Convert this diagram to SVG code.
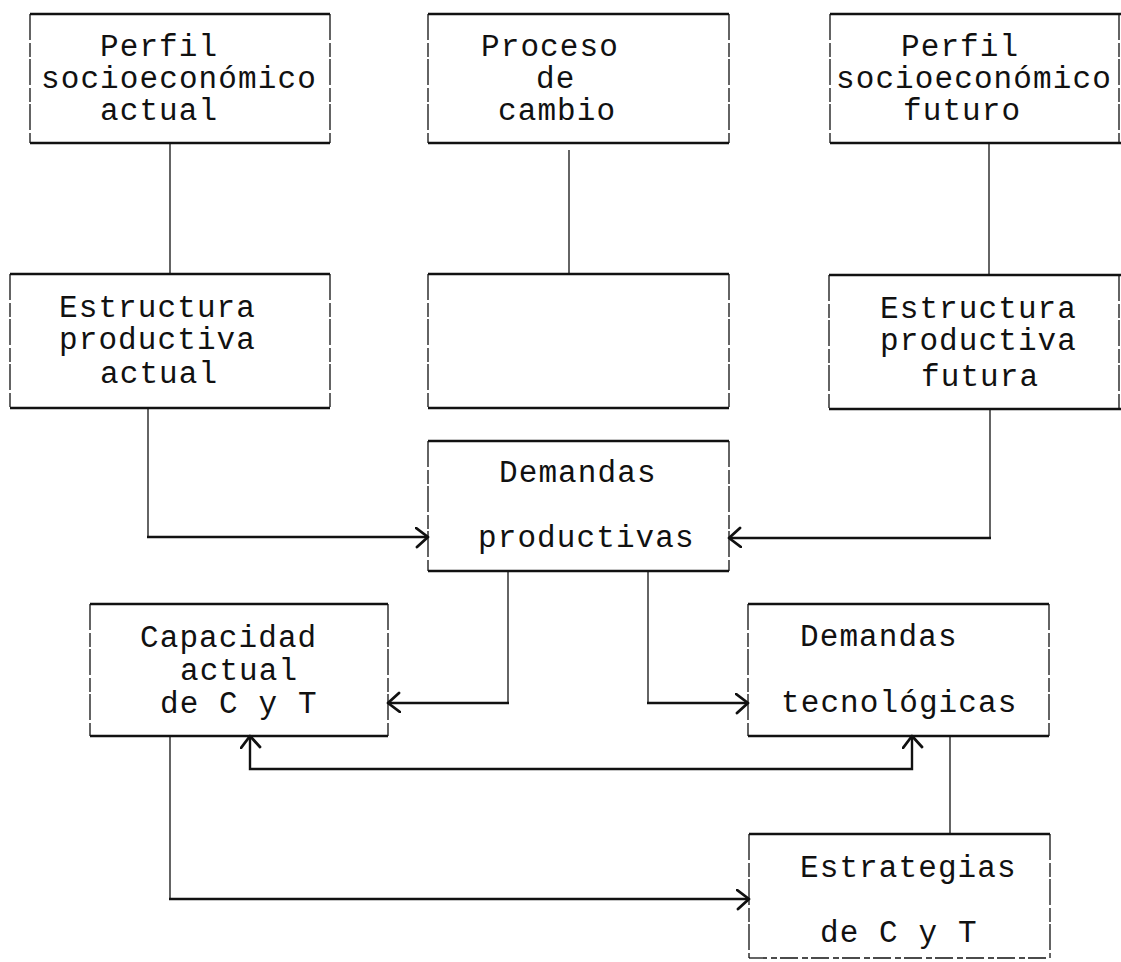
<svg xmlns="http://www.w3.org/2000/svg" width="1121" height="962" viewBox="0 0 1121 962">
<style>
.bg{fill:#fff}
.side{stroke:#111;stroke-width:1.3;fill:none;stroke-dasharray:26 3 14 2}
.edge{stroke:#111;stroke-width:2.6;fill:none}
.thin{stroke:#111;stroke-width:1.3;fill:none}
.thick{stroke:#111;stroke-width:2.4;fill:none}
text{font-family:"Liberation Mono","Courier New",monospace;font-size:31px;fill:#111;letter-spacing:1.1px}
</style>
<defs>
<marker id="ah" markerUnits="userSpaceOnUse" markerWidth="18" markerHeight="22" refX="13" refY="10" orient="auto-start-reverse" viewBox="0 0 18 22">
<path d="M1,1 L13,10 L2,20" fill="none" stroke="#111" stroke-width="2.8" stroke-linecap="round" stroke-linejoin="round"/>
</marker>
</defs>
<rect class="bg" x="0" y="0" width="1121" height="962"/>

<g id="connectors">
<line class="thin" x1="170" y1="143" x2="170" y2="274"/>
<line class="thin" x1="569" y1="150" x2="569" y2="274"/>
<line class="thin" x1="989" y1="143" x2="989" y2="275"/>
<line class="thin" x1="148" y1="408" x2="148" y2="537"/>
<line class="thick" x1="147" y1="537" x2="428" y2="537" marker-end="url(#ah)"/>
<line class="thin" x1="990" y1="409" x2="990" y2="538"/>
<line class="thick" x1="991" y1="538" x2="729" y2="538" marker-end="url(#ah)"/>
<line class="thin" x1="508" y1="571" x2="508" y2="703"/>
<line class="thick" x1="509" y1="703" x2="388" y2="703" marker-end="url(#ah)"/>
<line class="thin" x1="648" y1="571" x2="648" y2="703"/>
<line class="thick" x1="647" y1="703" x2="748" y2="703" marker-end="url(#ah)"/>
<path class="thick" d="M250,736 V769 H912 V736" marker-start="url(#ah)" marker-end="url(#ah)"/>
<line class="thin" x1="170" y1="736" x2="170" y2="899"/>
<line class="thick" x1="169" y1="899" x2="749" y2="899" marker-end="url(#ah)"/>
<line class="thin" x1="950" y1="736" x2="950" y2="834"/>
</g>

<g id="perfil-actual">
<line class="side" x1="30" y1="14" x2="30" y2="143"/>
<line class="side" x1="330" y1="14" x2="330" y2="143"/>
<line class="edge" x1="30" y1="14" x2="330" y2="14"/>
<line class="edge" x1="30" y1="143" x2="330" y2="143"/>
<text x="100" y="56">Perfil</text>
<text x="41" y="88">socioeconómico</text>
<text x="100" y="120">actual</text>
</g>

<g id="proceso-cambio">
<line class="side" x1="428" y1="14" x2="428" y2="143"/>
<line class="side" x1="729" y1="14" x2="729" y2="143"/>
<line class="edge" x1="428" y1="14" x2="729" y2="14"/>
<line class="edge" x1="428" y1="143" x2="729" y2="143"/>
<text x="481" y="56">Proceso</text>
<text x="536" y="88">de</text>
<text x="498" y="120">cambio</text>
</g>

<g id="perfil-futuro">
<line class="side" x1="830" y1="14" x2="830" y2="143"/>
<line class="side" x1="1119" y1="14" x2="1119" y2="143"/>
<line class="edge" x1="830" y1="14" x2="1121" y2="14"/>
<line class="edge" x1="830" y1="143" x2="1121" y2="143"/>
<text x="901" y="56">Perfil</text>
<text x="836" y="88">socioeconómico</text>
<text x="903" y="120">futuro</text>
</g>

<g id="estructura-actual">
<line class="side" x1="10" y1="274" x2="10" y2="408"/>
<line class="side" x1="330" y1="274" x2="330" y2="408"/>
<line class="edge" x1="10" y1="274" x2="330" y2="274"/>
<line class="edge" x1="10" y1="408" x2="330" y2="408"/>
<text x="59" y="317">Estructura</text>
<text x="59" y="349">productiva</text>
<text x="100" y="383">actual</text>
</g>

<g id="proceso-vacio">
<line class="side" x1="428" y1="274" x2="428" y2="408"/>
<line class="side" x1="729" y1="274" x2="729" y2="408"/>
<line class="edge" x1="428" y1="274" x2="729" y2="274"/>
<line class="edge" x1="428" y1="408" x2="729" y2="408"/>
</g>

<g id="estructura-futura">
<line class="side" x1="829" y1="275" x2="829" y2="409"/>
<line class="side" x1="1119" y1="275" x2="1119" y2="409"/>
<line class="edge" x1="829" y1="275" x2="1121" y2="275"/>
<line class="edge" x1="829" y1="409" x2="1121" y2="409"/>
<text x="880" y="318">Estructura</text>
<text x="880" y="350">productiva</text>
<text x="921" y="386">futura</text>
</g>

<g id="demandas-productivas">
<line class="side" x1="428" y1="441" x2="428" y2="571"/>
<line class="side" x1="729" y1="441" x2="729" y2="571"/>
<line class="edge" x1="428" y1="441" x2="729" y2="441"/>
<line class="edge" x1="428" y1="571" x2="729" y2="571"/>
<text x="499" y="482">Demandas</text>
<text x="478" y="547">productivas</text>
</g>

<g id="capacidad-actual">
<line class="side" x1="90" y1="604" x2="90" y2="736"/>
<line class="side" x1="388" y1="604" x2="388" y2="736"/>
<line class="edge" x1="90" y1="604" x2="388" y2="604"/>
<line class="edge" x1="90" y1="736" x2="388" y2="736"/>
<text x="140" y="647">Capacidad</text>
<text x="180" y="680">actual</text>
<text x="160" y="713">de C y T</text>
</g>

<g id="demandas-tecnologicas">
<line class="side" x1="748" y1="604" x2="748" y2="736"/>
<line class="side" x1="1049" y1="604" x2="1049" y2="736"/>
<line class="edge" x1="748" y1="604" x2="1049" y2="604"/>
<line class="edge" x1="748" y1="736" x2="1049" y2="736"/>
<text x="800" y="646">Demandas</text>
<text x="781" y="712">tecnológicas</text>
</g>

<g id="estrategias">
<line class="side" x1="749" y1="834" x2="749" y2="958"/>
<line class="side" x1="1050" y1="834" x2="1050" y2="958"/>
<line class="edge" x1="749" y1="834" x2="1050" y2="834"/>
<line class="thin" x1="749" y1="958" x2="1050" y2="958" stroke-dasharray="18 4 6 3"/>
<text x="800" y="877">Estrategias</text>
<text x="820" y="942">de C y T</text>
</g>
</svg>
